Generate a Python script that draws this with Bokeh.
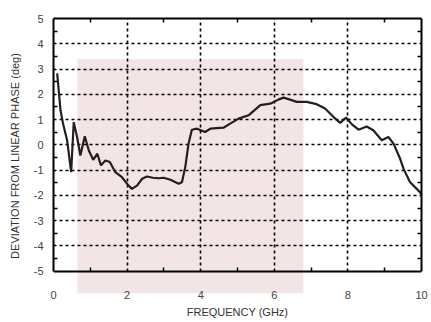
from bokeh.plotting import figure
from bokeh.models import BoxAnnotation, FixedTicker, LinearAxis, Range1d, Title
from bokeh.embed import file_html
from bokeh.resources import INLINE

freq = [0.10, 0.19, 0.26, 0.37, 0.48, 0.55, 0.64, 0.73, 0.85, 0.96, 1.08, 1.19, 1.29, 1.41,
        1.53, 1.68, 1.86, 2.04, 2.13, 2.27, 2.41, 2.54, 2.70, 2.86, 2.99, 3.18, 3.40, 3.49,
        3.58, 3.67, 3.76, 3.90, 4.12, 4.26, 4.62, 4.80, 5.03, 5.30, 5.62, 5.89, 6.11, 6.25,
        6.43, 6.61, 6.88, 7.15, 7.38, 7.61, 7.79, 7.95, 8.11, 8.29, 8.51, 8.69, 8.92, 9.10,
        9.24, 9.42, 9.51, 9.69, 9.87, 10.0]
phase = [2.83, 1.37, 0.84, 0.18, -1.08, 0.90, 0.31, -0.42, 0.34, -0.22, -0.59, -0.35, -0.81, -0.62,
         -0.68, -1.08, -1.28, -1.61, -1.74, -1.61, -1.34, -1.25, -1.30, -1.32, -1.30, -1.38, -1.54, -1.48,
         -0.88, 0.05, 0.60, 0.64, 0.51, 0.64, 0.68, 0.84, 1.04, 1.17, 1.57, 1.63, 1.79, 1.87,
         1.79, 1.70, 1.70, 1.61, 1.44, 1.10, 0.87, 1.08, 0.81, 0.60, 0.73, 0.58, 0.18, 0.31,
         0.05, -0.55, -0.94, -1.48, -1.74, -1.94]

x_ticks = [0, 2, 4, 6, 8, 10]
x_minor = [1, 3, 5, 7, 9]
y_ticks = [-5, -4, -3, -2, -1, 0, 1, 2, 3, 4, 5]
y_minor = [-4.5, -3.5, -2.5, -1.5, -0.5, 0.5, 1.5, 2.5, 3.5, 4.5]
band_x = (0.65, 6.79)
band_y = (-5.88, 3.39)
x_title = "FREQUENCY (GHz)"
y_title = "DEVIATION FROM LINEAR PHASE (deg)"

p = figure(width=431, height=322, output_backend="svg", toolbar_location=None,
           x_range=Range1d(0, 10), y_range=Range1d(band_y[0], 5),
           min_border_left=53, min_border_right=10, min_border_top=18, min_border_bottom=29,
           y_axis_label=y_title)

p.outline_line_color = None
p.background_fill_color = "white"
p.border_fill_color = "white"

box = BoxAnnotation(left=band_x[0], right=band_x[1], bottom=band_y[0], top=band_y[1],
                    fill_color="#f3e5e5", fill_alpha=1.0, line_color=None, level="image")
p.add_layout(box)

font = "Liberation Sans"

def style_labels(ax):
    ax.major_label_text_font = font
    ax.major_label_text_font_size = "11px"
    ax.major_label_text_color = "#444444"
    ax.axis_label_text_font = font
    ax.axis_label_text_font_size = "11px"
    ax.axis_label_text_font_style = "normal"
    ax.axis_label_text_color = "#333333"

def style_frame_axis(ax):
    ax.axis_line_color = "black"
    ax.axis_line_width = 2
    ax.major_tick_in = 0
    ax.major_tick_out = 0
    ax.minor_tick_in = 4
    ax.minor_tick_out = 0
    ax.minor_tick_line_color = "black"
    ax.minor_tick_line_width = 1.5

# bottom: tick labels only (in the border panel)
for ax in p.xaxis:
    ax.ticker = FixedTicker(ticks=x_ticks, minor_ticks=[])
    ax.axis_line_color = None
    ax.major_tick_line_color = None
    ax.minor_tick_line_color = None
    ax.major_label_standoff = -9
    style_labels(ax)

# bottom frame edge at y = -5
bottom_edge = LinearAxis(ticker=FixedTicker(ticks=[], minor_ticks=x_minor), fixed_location=-5)
style_frame_axis(bottom_edge)
p.add_layout(bottom_edge, "below")

for ax in p.yaxis:
    ax.ticker = FixedTicker(ticks=y_ticks, minor_ticks=y_minor)
    ax.major_label_overrides = {t: str(t) for t in y_ticks}
    ax.bounds = (-5, 5)
    ax.major_label_standoff = 10
    ax.axis_label_standoff = 10
    style_frame_axis(ax)
    style_labels(ax)

top_ax = LinearAxis(ticker=FixedTicker(ticks=[], minor_ticks=x_minor))
right_ax = LinearAxis(ticker=FixedTicker(ticks=[], minor_ticks=y_minor), bounds=(-5, 5))
style_frame_axis(top_ax)
style_frame_axis(right_ax)
p.add_layout(top_ax, "above")
p.add_layout(right_ax, "right")
p.min_border_top = 18
p.min_border_right = 10

p.add_layout(Title(text=x_title, align="center", text_font=font, text_font_size="11px",
                   text_font_style="normal", text_color="#333333", standoff=4), "below")

p.xgrid.ticker = FixedTicker(ticks=[2, 4, 6, 8])
p.xgrid.cross_bounds = (-5, 5)
p.ygrid.ticker = FixedTicker(ticks=[-4, -3, -2, -1, 0, 1, 2, 3, 4])
for g in (p.xgrid, p.ygrid):
    g.grid_line_color = "black"
    g.grid_line_width = 1.6
    g.grid_line_dash = "3 3"
    g.grid_line_alpha = 1.0

p.line(freq, phase, line_color="#231f20", line_width=2.2)

open("out.html", "w").write(file_html(p, INLINE))
